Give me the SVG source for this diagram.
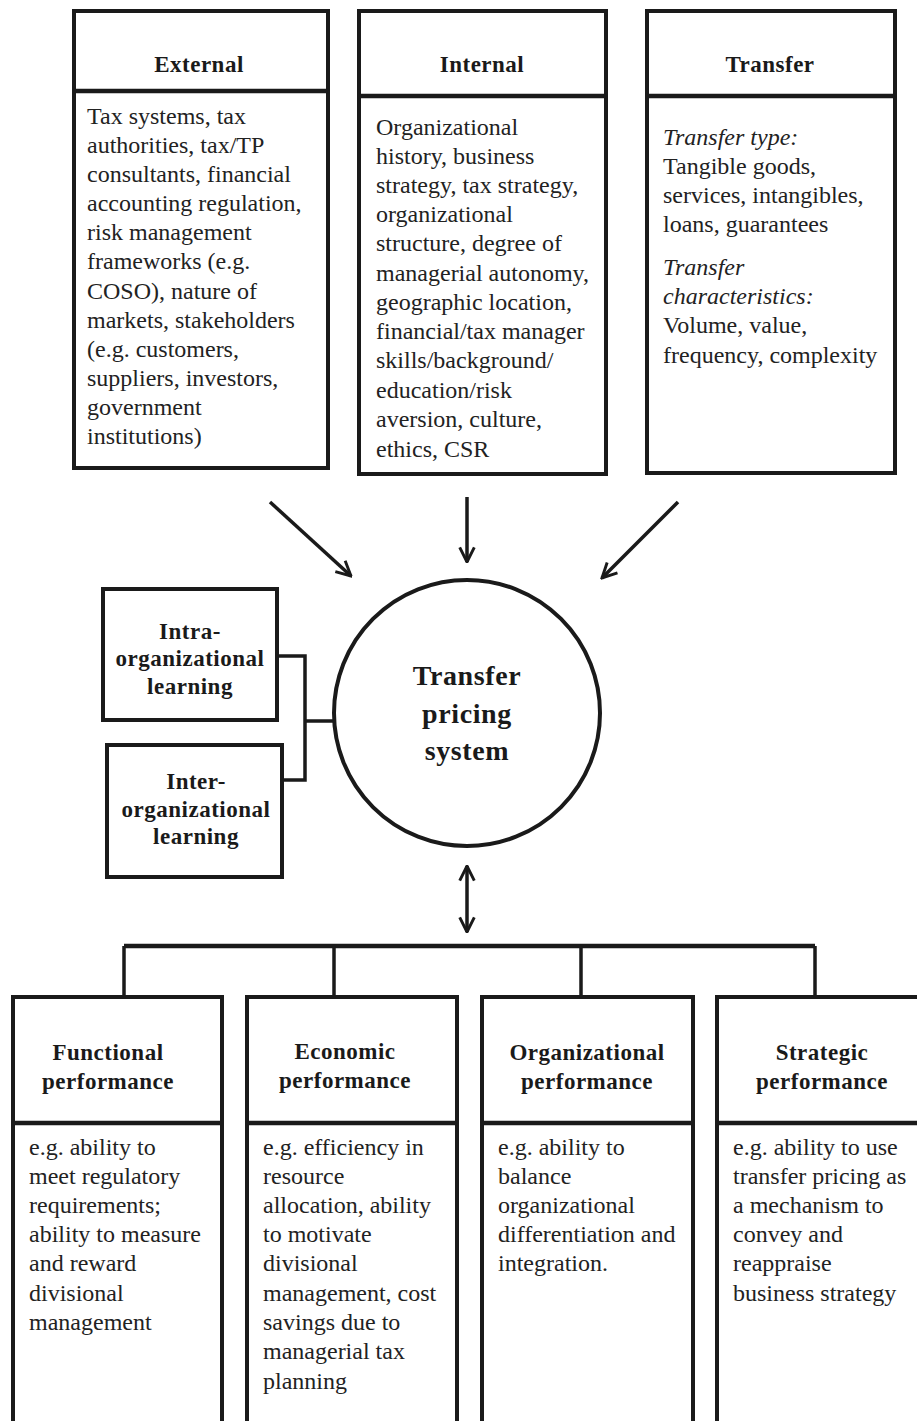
<svg xmlns="http://www.w3.org/2000/svg" width="917" height="1421" viewBox="0 0 917 1421">
<defs>
<marker id="ah" viewBox="0 0 12 12" refX="11" refY="6" markerWidth="5" markerHeight="5" orient="auto-start-reverse" markerUnits="strokeWidth">
<path d="M1,1 L11,6 L1,11" fill="none" stroke="#1a1a1a" stroke-width="2" stroke-linejoin="miter"/>
</marker>
</defs>
<style>
.box{fill:#fff;stroke:#1a1a1a;stroke-width:4}
.div{stroke:#1a1a1a;stroke-width:4.5}
.ln{fill:none;stroke:#1a1a1a;stroke-width:3.5}
.arr{fill:none;stroke:#1a1a1a;stroke-width:3.5}
.t{font-family:"Liberation Serif","Times New Roman",serif;font-size:24px;fill:#222;letter-spacing:0px}
.i{font-style:italic}
.h{font-family:"Liberation Serif","Times New Roman",serif;font-size:23px;font-weight:bold;fill:#1a1a1a;letter-spacing:0.5px;text-anchor:middle}
.c{font-family:"Liberation Serif","Times New Roman",serif;font-size:28px;font-weight:bold;fill:#1a1a1a;letter-spacing:0.6px;text-anchor:middle}
</style>
<rect width="917" height="1421" fill="#fff"/>

<g id="connectors">
<line class="arr" x1="270" y1="502" x2="351" y2="576" marker-end="url(#ah)"/>
<line class="arr" x1="467" y1="497" x2="467" y2="562" marker-end="url(#ah)"/>
<line class="arr" x1="678" y1="502" x2="602" y2="578" marker-end="url(#ah)"/>
<line class="arr" x1="467" y1="866" x2="467" y2="932" marker-start="url(#ah)" marker-end="url(#ah)"/>
<path class="ln" d="M277,656 H305 V780 H282 M305,721 H334"/>
<path class="ln" d="M124,946 H815" style="stroke-width:4.5"/>
<path class="ln" d="M124,946 V997 M334,946 V997 M581,946 V997 M815,946 V997"/>
</g>

<g id="external">
<rect class="box" x="74" y="11" width="254" height="457"/>
<line class="div" x1="74" y1="91" x2="328" y2="91"/>
<text class="h" x="199" y="72">External</text>
<text class="t" x="87" y="124">Tax systems, tax</text>
<text class="t" x="87" y="153">authorities, tax/TP</text>
<text class="t" x="87" y="182">consultants, financial</text>
<text class="t" x="87" y="211">accounting regulation,</text>
<text class="t" x="87" y="240">risk management</text>
<text class="t" x="87" y="269">frameworks (e.g.</text>
<text class="t" x="87" y="299">COSO), nature of</text>
<text class="t" x="87" y="328">markets, stakeholders</text>
<text class="t" x="87" y="357">(e.g. customers,</text>
<text class="t" x="87" y="386">suppliers, investors,</text>
<text class="t" x="87" y="415">government</text>
<text class="t" x="87" y="444">institutions)</text>
</g>

<g id="internal">
<rect class="box" x="359" y="11" width="247" height="463"/>
<line class="div" x1="359" y1="96" x2="606" y2="96"/>
<text class="h" x="482" y="72">Internal</text>
<text class="t" x="376" y="135">Organizational</text>
<text class="t" x="376" y="164">history, business</text>
<text class="t" x="376" y="193">strategy, tax strategy,</text>
<text class="t" x="376" y="222">organizational</text>
<text class="t" x="376" y="251">structure, degree of</text>
<text class="t" x="376" y="281">managerial autonomy,</text>
<text class="t" x="376" y="310">geographic location,</text>
<text class="t" x="376" y="339">financial/tax manager</text>
<text class="t" x="376" y="368">skills/background/</text>
<text class="t" x="376" y="398">education/risk</text>
<text class="t" x="376" y="427">aversion, culture,</text>
<text class="t" x="376" y="457">ethics, CSR</text>
</g>

<g id="transfer">
<rect class="box" x="647" y="11" width="248" height="462"/>
<line class="div" x1="647" y1="96" x2="895" y2="96"/>
<text class="h" x="770" y="72">Transfer</text>
<text class="t i" x="663" y="145">Transfer type:</text>
<text class="t" x="663" y="174">Tangible goods,</text>
<text class="t" x="663" y="203">services, intangibles,</text>
<text class="t" x="663" y="232">loans, guarantees</text>
<text class="t i" x="663" y="275">Transfer</text>
<text class="t i" x="663" y="304">characteristics:</text>
<text class="t" x="663" y="333">Volume, value,</text>
<text class="t" x="663" y="363">frequency, complexity</text>
</g>

<g id="tp-system">
<circle cx="467" cy="713" r="133" fill="#fff" stroke="#1a1a1a" stroke-width="4"/>
<text class="c" x="467" y="685">Transfer</text>
<text class="c" x="467" y="723">pricing</text>
<text class="c" x="467" y="760">system</text>
</g>

<g id="intra">
<rect class="box" x="103" y="589" width="174" height="131"/>
<text class="h" x="190" y="639">Intra-</text>
<text class="h" x="190" y="666">organizational</text>
<text class="h" x="190" y="694">learning</text>
</g>

<g id="inter">
<rect class="box" x="107" y="745" width="175" height="132"/>
<text class="h" x="196" y="789">Inter-</text>
<text class="h" x="196" y="817">organizational</text>
<text class="h" x="196" y="844">learning</text>
</g>

<g id="functional">
<rect class="box" x="13" y="997" width="209" height="440"/>
<line class="div" x1="13" y1="1123" x2="222" y2="1123"/>
<text class="h" x="108" y="1060">Functional</text>
<text class="h" x="108" y="1089">performance</text>
<text class="t" x="29" y="1155">e.g. ability to</text>
<text class="t" x="29" y="1184">meet regulatory</text>
<text class="t" x="29" y="1213">requirements;</text>
<text class="t" x="29" y="1242">ability to measure</text>
<text class="t" x="29" y="1271">and reward</text>
<text class="t" x="29" y="1301">divisional</text>
<text class="t" x="29" y="1330">management</text>
</g>

<g id="economic">
<rect class="box" x="247" y="997" width="210" height="440"/>
<line class="div" x1="247" y1="1123" x2="457" y2="1123"/>
<text class="h" x="345" y="1059">Economic</text>
<text class="h" x="345" y="1088">performance</text>
<text class="t" x="263" y="1155">e.g. efficiency in</text>
<text class="t" x="263" y="1184">resource</text>
<text class="t" x="263" y="1213">allocation, ability</text>
<text class="t" x="263" y="1242">to motivate</text>
<text class="t" x="263" y="1271">divisional</text>
<text class="t" x="263" y="1301">management, cost</text>
<text class="t" x="263" y="1330">savings due to</text>
<text class="t" x="263" y="1359">managerial tax</text>
<text class="t" x="263" y="1389">planning</text>
</g>

<g id="organizational">
<rect class="box" x="482" y="997" width="211" height="440"/>
<line class="div" x1="482" y1="1123" x2="693" y2="1123"/>
<text class="h" x="587" y="1060">Organizational</text>
<text class="h" x="587" y="1089">performance</text>
<text class="t" x="498" y="1155">e.g. ability to</text>
<text class="t" x="498" y="1184">balance</text>
<text class="t" x="498" y="1213">organizational</text>
<text class="t" x="498" y="1242">differentiation and</text>
<text class="t" x="498" y="1271">integration.</text>
</g>

<g id="strategic">
<rect class="box" x="717" y="997" width="215" height="440"/>
<line class="div" x1="717" y1="1123" x2="932" y2="1123"/>
<text class="h" x="822" y="1060">Strategic</text>
<text class="h" x="822" y="1089">performance</text>
<text class="t" x="733" y="1155">e.g. ability to use</text>
<text class="t" x="733" y="1184">transfer pricing as</text>
<text class="t" x="733" y="1213">a mechanism to</text>
<text class="t" x="733" y="1242">convey and</text>
<text class="t" x="733" y="1271">reappraise</text>
<text class="t" x="733" y="1301">business strategy</text>
</g>
</svg>
